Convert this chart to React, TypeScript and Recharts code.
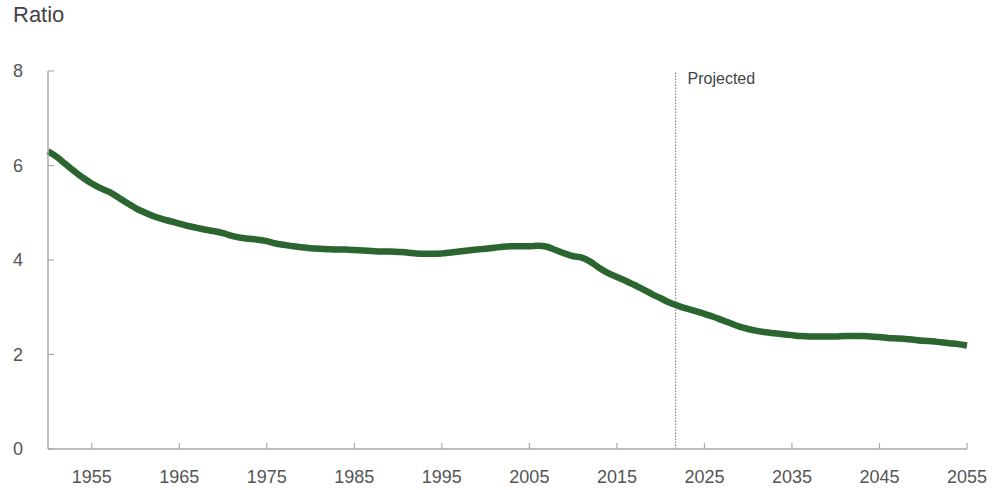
import React from 'react';
import { LineChart, Line, XAxis, YAxis, ReferenceLine } from 'recharts';

const years: number[] = [];
for (let y = 1950; y <= 2055; y++) years.push(y);

const ratio: number[] = [
  6.30, 6.18, 6.03, 5.88, 5.74, 5.62, 5.52, 5.44, 5.33, 5.21,
  5.10, 5.01, 4.93, 4.87, 4.82, 4.77, 4.72, 4.68, 4.64, 4.61,
  4.57, 4.51, 4.47, 4.45, 4.43, 4.40, 4.35, 4.32, 4.29, 4.27,
  4.25, 4.24, 4.23, 4.22, 4.22, 4.21, 4.20, 4.19, 4.18, 4.18,
  4.17, 4.16, 4.14, 4.13, 4.13, 4.14, 4.16, 4.18, 4.20, 4.22,
  4.24, 4.26, 4.28, 4.29, 4.29, 4.29, 4.30, 4.28, 4.21, 4.14,
  4.08, 4.05, 3.96, 3.83, 3.72, 3.64, 3.56, 3.47, 3.38, 3.28,
  3.19, 3.10, 3.03, 2.97, 2.92, 2.86, 2.80, 2.73, 2.66, 2.59,
  2.54, 2.50, 2.47, 2.45, 2.43, 2.41, 2.39, 2.38, 2.38, 2.38,
  2.38, 2.39, 2.39, 2.39, 2.38, 2.37, 2.35, 2.34, 2.33, 2.31,
  2.29, 2.28, 2.26, 2.24, 2.22, 2.19,
];

const xTicks = [1955, 1965, 1975, 1985, 1995, 2005, 2015, 2025, 2035, 2045, 2055];
const yTicks = [0, 2, 4, 6, 8];
const projectedYear = 2021.7;
const yLabel = 'Ratio';
const projectedLabel = 'Projected';

const data = years.map((y, i) => ({ year: y, ratio: ratio[i] }));

const FONT = 'Liberation Sans, Arial, sans-serif';
const AXIS = '#aaaaaa';
const TEXT = '#555555';

const YTick = (props: any) => {
  const { x, y, payload } = props;
  return (
    <g>
      <line x1={x} x2={x + 6} y1={y} y2={y} stroke={AXIS} strokeWidth={1.2} />
      <text x={x - 25} y={y} dy={6} textAnchor="end" fontSize={18} fill={TEXT} fontFamily={FONT}>
        {payload.value}
      </text>
    </g>
  );
};

const XTick = (props: any) => {
  const { x, y, payload } = props;
  return (
    <g>
      <line x1={x} x2={x} y1={y} y2={y - 6} stroke={AXIS} strokeWidth={1.2} />
      <text x={x} y={y + 34} textAnchor="middle" fontSize={18} fill={TEXT} fontFamily={FONT}>
        {payload.value}
      </text>
    </g>
  );
};

const ProjLabel = (props: any) => {
  const vb = props.viewBox || {};
  return (
    <text x={(vb.x || 0) + 12} y={(vb.y || 0) + 13} fontSize={16} fill="#444" fontFamily={FONT}>
      {projectedLabel}
    </text>
  );
};

export default function App() {
  return (
    <div style={{ position: 'absolute', left: 0, top: 0, width: 992, height: 490, background: '#fff' }}>
      <div style={{ position: 'absolute', left: 13, top: 2, fontSize: 22, color: '#444', fontFamily: FONT }}>
        {yLabel}
      </div>
      <LineChart width={992} height={490} data={data} margin={{ top: 71, right: 25, bottom: 0, left: 0 }}>
        <XAxis
          dataKey="year"
          type="number"
          domain={[1950, 2055]}
          ticks={xTicks}
          interval={0}
          height={41}
          tickSize={0}
          tickMargin={0}
          tickLine={false}
          axisLine={{ stroke: AXIS, strokeWidth: 1.5 }}
          tick={<XTick />}
        />
        <YAxis
          domain={[0, 8]}
          ticks={yTicks}
          interval={0}
          width={48}
          tickSize={0}
          tickMargin={0}
          tickLine={false}
          axisLine={{ stroke: AXIS, strokeWidth: 1.5 }}
          tick={<YTick />}
        />
        <ReferenceLine
          x={projectedYear}
          stroke="#888"
          strokeWidth={1.2}
          strokeDasharray="1.5 1.5"
          label={<ProjLabel />}
        />
        <Line
          type="monotone"
          dataKey="ratio"
          stroke="#2b6530"
          strokeWidth={6.5}
          dot={false}
          isAnimationActive={false}
        />
      </LineChart>
    </div>
  );
}
